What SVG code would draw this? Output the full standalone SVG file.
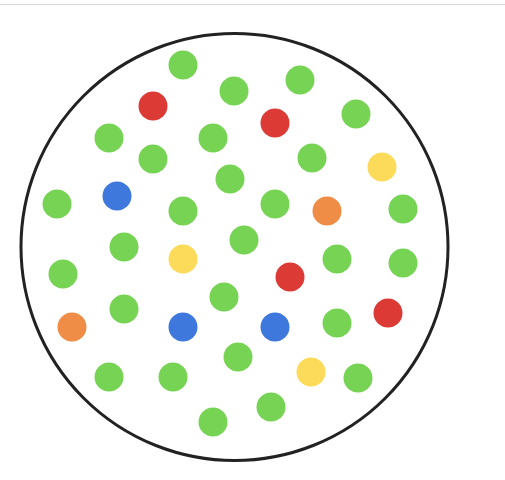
<svg xmlns="http://www.w3.org/2000/svg" width="505" height="480" viewBox="0 0 505 480">
<style>
.g{fill:#77d354}.r{fill:#db3a35}.b{fill:#3e78dc}.y{fill:#fcdb5a}.o{fill:#ef8c45}
</style>
<rect width="505" height="480" fill="#fff"/>
<line x1="0" y1="4.5" x2="505" y2="4.5" stroke="#d8d8d8" stroke-width="1"/>
<circle cx="234.5" cy="247" r="213.5" fill="none" stroke="#222" stroke-width="3"/>
<g id="dots">
<circle class="g" cx="183" cy="65" r="14.5"/>
<circle class="g" cx="234" cy="91" r="14.5"/>
<circle class="g" cx="300" cy="80" r="14.5"/>
<circle class="r" cx="153" cy="106" r="14.5"/>
<circle class="r" cx="275" cy="123" r="14.5"/>
<circle class="g" cx="356" cy="114" r="14.5"/>
<circle class="g" cx="109" cy="138" r="14.5"/>
<circle class="g" cx="213" cy="138" r="14.5"/>
<circle class="g" cx="153" cy="159" r="14.5"/>
<circle class="g" cx="312" cy="158" r="14.5"/>
<circle class="y" cx="382" cy="167" r="14.5"/>
<circle class="g" cx="230" cy="179" r="14.5"/>
<circle class="b" cx="117" cy="196" r="14.5"/>
<circle class="g" cx="57" cy="204" r="14.5"/>
<circle class="g" cx="183" cy="211" r="14.5"/>
<circle class="g" cx="275" cy="204" r="14.5"/>
<circle class="o" cx="327" cy="211" r="14.5"/>
<circle class="g" cx="403" cy="209" r="14.5"/>
<circle class="g" cx="124" cy="247" r="14.5"/>
<circle class="g" cx="244" cy="240" r="14.5"/>
<circle class="y" cx="183" cy="259" r="14.5"/>
<circle class="g" cx="337" cy="259" r="14.5"/>
<circle class="g" cx="403" cy="263" r="14.5"/>
<circle class="g" cx="63" cy="274" r="14.5"/>
<circle class="r" cx="290" cy="277" r="14.5"/>
<circle class="g" cx="224" cy="297" r="14.5"/>
<circle class="g" cx="124" cy="309" r="14.5"/>
<circle class="r" cx="388" cy="313" r="14.5"/>
<circle class="o" cx="72" cy="327" r="14.5"/>
<circle class="b" cx="183" cy="327" r="14.5"/>
<circle class="b" cx="275" cy="327" r="14.5"/>
<circle class="g" cx="337" cy="323" r="14.5"/>
<circle class="g" cx="238" cy="357" r="14.5"/>
<circle class="y" cx="311" cy="372" r="14.5"/>
<circle class="g" cx="358" cy="378" r="14.5"/>
<circle class="g" cx="109" cy="377" r="14.5"/>
<circle class="g" cx="173" cy="377" r="14.5"/>
<circle class="g" cx="271" cy="407" r="14.5"/>
<circle class="g" cx="213" cy="422" r="14.5"/>
</g>
</svg>
